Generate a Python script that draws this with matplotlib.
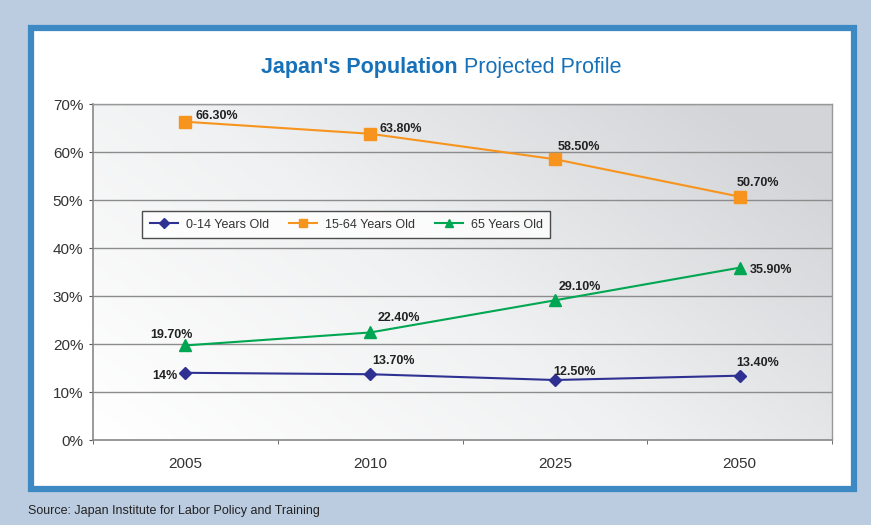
import matplotlib.pyplot as plt
import numpy as np
from matplotlib.patches import Rectangle
from matplotlib.colors import LinearSegmentedColormap

years = ["2005", "2010", "2025", "2050"]
age_0_14 = [14.0, 13.7, 12.5, 13.4]
age_15_64 = [66.3, 63.8, 58.5, 50.7]
age_65 = [19.7, 22.4, 29.1, 35.9]
labels_0_14 = ["14%", "13.70%", "12.50%", "13.40%"]
labels_15_64 = ["66.30%", "63.80%", "58.50%", "50.70%"]
labels_65 = ["19.70%", "22.40%", "29.10%", "35.90%"]
yticks = [0, 10, 20, 30, 40, 50, 60, 70]

plt.rcParams['font.family'] = ['Liberation Sans', 'DejaVu Sans']

W, H = 871, 525
fig = plt.figure(figsize=(W / 100, H / 100), dpi=100)
fig.patch.set_facecolor('#BBCCE1')

def px(x0, y0, x1, y1):
    return (x0 / W, 1 - y1 / H, (x1 - x0) / W, (y1 - y0) / H)

# white panel with blue frame
l, b, w, h = px(31, 28, 854, 489)
panel = Rectangle((l, b), w, h, transform=fig.transFigure,
                  facecolor='white', edgecolor='#3D89C4', linewidth=4.5, zorder=-10)
fig.add_artist(panel)

ax = fig.add_axes(px(93, 104, 832, 440))
ax.set_zorder(1)
ax.set_facecolor('none')

# gradient background
nx, ny = 200, 100
xx, yy = np.meshgrid(np.linspace(0, 1, nx), np.linspace(0, 1, ny))
g = np.clip((xx * 0.75 + yy * 0.45) / 1.1, 0, 1)
cmap = LinearSegmentedColormap.from_list('g', ['#FFFFFF', '#F0F1F2', '#D2D4D7'])
ax.imshow(g, cmap=cmap, extent=(0, 4, 0, 70), origin='lower', aspect='auto', zorder=0)

xpos = np.arange(len(years)) + 0.5
ax.set_xlim(0, 4)
ax.set_ylim(0, 70)

for yv in yticks[1:]:
    ax.axhline(yv, color='#8C8C8C', linewidth=1.0, zorder=1)

ax.plot(xpos, age_0_14, color='#2E3192', marker='D', markersize=6, linewidth=1.5,
        label='0-14 Years Old', zorder=3)
ax.plot(xpos, age_15_64, color='#F7941D', marker='s', markersize=8, linewidth=1.5,
        label='15-64 Years Old', zorder=3)
ax.plot(xpos, age_65, color='#00A651', marker='^', markersize=8, linewidth=1.5,
        label='65 Years Old', zorder=3)

def lab(x, y, s, dx, dy, ha='left'):
    ax.annotate(s, (x, y), xytext=(dx, dy), textcoords='offset pixels', ha=ha, va='center',
                fontsize=9, fontweight='bold', color='#222222', zorder=4)

off_15_64 = [(10, 6), (9, 5), (3, 12), (-3, 14)]
off_65 = [(7, 10), (7, 14), (4, 13), (10, -2)]
off_0_14 = [(-8, -3), (2, 13), (-2, 8), (-3, 13)]
for i in range(4):
    lab(xpos[i], age_15_64[i], labels_15_64[i], *off_15_64[i])
    dx, dy = off_65[i]
    lab(xpos[i], age_65[i], labels_65[i], dx, dy, ha='right' if i == 0 else 'left')
    dx, dy = off_0_14[i]
    lab(xpos[i], age_0_14[i], labels_0_14[i], dx, dy, ha='right' if i == 0 else 'left')

ax.set_yticks(yticks)
ax.set_yticklabels([f"{v}%" for v in yticks], fontsize=11, color='#333333')
ax.set_xticks(xpos)
ax.set_xticklabels(years, fontsize=11, color='#333333')
ax.set_xticks([0, 1, 2, 3, 4], minor=True)
ax.tick_params(axis='x', which='major', length=0, pad=12)
ax.tick_params(axis='x', which='minor', length=3, color='#555555', direction='out')
ax.tick_params(axis='y', length=3, color='#555555', pad=4)
for s in ['left', 'bottom']:
    ax.spines[s].set_color('#888888')
    ax.spines[s].set_linewidth(1.2)
for s in ['top', 'right']:
    ax.spines[s].set_color('#999999')
    ax.spines[s].set_linewidth(1.0)

leg = ax.legend(loc='upper left', bbox_to_anchor=((142 - 93) / 739, 1 - (211 - 104) / 336),
                ncol=3, frameon=True, fontsize=9, fancybox=False, borderaxespad=0,
                handlelength=2.24, columnspacing=1.6, borderpad=0.6, handletextpad=0.64,
                markerscale=0.8)
leg.get_frame().set_edgecolor('#222222')
leg.get_frame().set_linewidth(1.0)
leg.get_frame().set_facecolor('white')
leg.set_zorder(5)
for t in leg.get_texts():
    t.set_color('#333333')

# title
t1 = fig.text(0, 1 - 68 / H, "Japan's Population", fontsize=15.5, fontweight='bold',
              color='#1771B8', ha='left', va='center')
t2 = fig.text(0, 1 - 68 / H, " Projected Profile", fontsize=15.5, color='#1771B8',
              ha='left', va='center')
fig.canvas.draw()
r = fig.canvas.get_renderer()
w1 = t1.get_window_extent(r).width
w2 = t2.get_window_extent(r).width
start = (441 - (w1 + w2) / 2)
t1.set_x(start / W)
t2.set_x((start + w1) / W)

fig.text(28 / W, 1 - 511 / H, "Source: Japan Institute for Labor Policy and Training",
         fontsize=9, color='#222222', ha='left', va='center')

fig.savefig('out.png', dpi=100, facecolor=fig.get_facecolor())
